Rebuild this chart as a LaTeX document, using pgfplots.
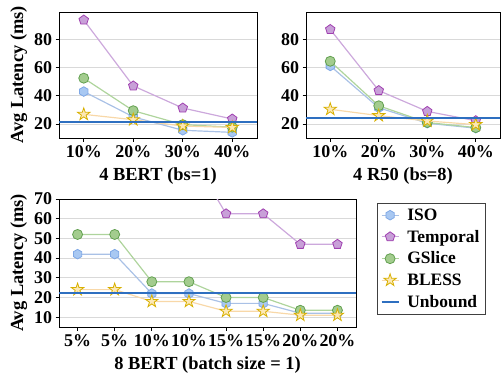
\documentclass[border=0pt]{standalone}
\usepackage{pgfplots}
\pgfplotsset{compat=1.18}
\usepackage{fontspec}
\setmainfont{Liberation Serif}
\definecolor{isoF}{HTML}{A8C8F2}
\definecolor{isoE}{HTML}{7FA8E6}
\definecolor{isoL}{HTML}{A9C1E6}
\definecolor{tmpF}{HTML}{C8A0D8}
\definecolor{tmpE}{HTML}{A040B0}
\definecolor{tmpL}{HTML}{CCA8DC}
\definecolor{gsF}{HTML}{A3CC8E}
\definecolor{gsE}{HTML}{62A050}
\definecolor{gsL}{HTML}{AED49C}
\definecolor{blF}{HTML}{FCE8B6}
\definecolor{blE}{HTML}{D8B000}
\definecolor{blL}{HTML}{F8D8A8}
\definecolor{unb}{HTML}{2E6FC0}
\pgfdeclareplotmark{hexa}{%
  \pgfpathmoveto{\pgfqpointpolar{90}{\pgfplotmarksize}}%
  \pgfpathlineto{\pgfqpointpolar{150}{\pgfplotmarksize}}%
  \pgfpathlineto{\pgfqpointpolar{210}{\pgfplotmarksize}}%
  \pgfpathlineto{\pgfqpointpolar{270}{\pgfplotmarksize}}%
  \pgfpathlineto{\pgfqpointpolar{330}{\pgfplotmarksize}}%
  \pgfpathlineto{\pgfqpointpolar{30}{\pgfplotmarksize}}%
  \pgfpathclose\pgfusepathqfillstroke}
\pgfdeclareplotmark{fstar}{%
  \pgfpathmoveto{\pgfqpointpolar{90}{\pgfplotmarksize}}%
  \pgfpathlineto{\pgfqpointpolar{126}{0.382\pgfplotmarksize}}%
  \pgfpathlineto{\pgfqpointpolar{162}{\pgfplotmarksize}}%
  \pgfpathlineto{\pgfqpointpolar{198}{0.382\pgfplotmarksize}}%
  \pgfpathlineto{\pgfqpointpolar{234}{\pgfplotmarksize}}%
  \pgfpathlineto{\pgfqpointpolar{270}{0.382\pgfplotmarksize}}%
  \pgfpathlineto{\pgfqpointpolar{306}{\pgfplotmarksize}}%
  \pgfpathlineto{\pgfqpointpolar{342}{0.382\pgfplotmarksize}}%
  \pgfpathlineto{\pgfqpointpolar{18}{\pgfplotmarksize}}%
  \pgfpathlineto{\pgfqpointpolar{54}{0.382\pgfplotmarksize}}%
  \pgfpathclose\pgfusepathqfillstroke}
\pgfplotsset{
  base/.style={
    scale only axis,
    axis line style={black, line width=0.8pt},
    tick style={black, line width=0.8pt},
    tick align=outside, major tick length=3.5bp,
    xtick pos=bottom, ytick pos=left,
    ymajorgrids, grid style={gray!30, line width=0.8pt},
    font=\fontsize{18}{21}\selectfont\bfseries,
    tick label style={font=\fontsize{18}{21}\selectfont\bfseries},
    xticklabel style={yshift=-1bp},
    label style={font=\fontsize{18.5}{21}\selectfont\bfseries},
    xlabel style={yshift=-3bp},
    /pgf/number format/assume math mode=true,
    xtick=data,
    clip mode=individual,
  },
  iso/.style={isoL, line width=1.2pt, mark=hexa, mark size=4.8bp, mark options={fill=isoF, draw=isoE, line width=0.8pt}},
  tmp/.style={tmpL, line width=1.2pt, mark=pentagon*, mark size=5bp, mark options={fill=tmpF, draw=tmpE, line width=0.8pt}},
  gs/.style={gsL, line width=1.2pt, mark=*, mark size=5bp, mark options={fill=gsF, draw=gsE, line width=0.8pt}},
  bl/.style={blL, line width=1.2pt, mark=fstar, mark size=6.5bp, mark options={fill=blF, draw=blE, line width=0.8pt}},
  ub/.style={unb, line width=1.6pt},
}
\begin{document}
\begin{tikzpicture}[x=1bp,y=1bp]
\useasboundingbox (0,0) rectangle (501,-377);
% top left
\begin{axis}[base, at={(59bp,-138bp)}, anchor=south west,
  width=198bp, height=126bp,
  xmin=-0.5, xmax=3.5, ymin=10, ymax=99.5,
  ytick={20,40,60,80},
  xticklabels={10\%,20\%,30\%,40\%},
  xlabel={4 BERT (bs=1)}, ylabel={Avg Latency (ms)}]
\addplot[iso] coordinates {(0,43) (1,25) (2,15.5) (3,14)};
\addplot[tmp] coordinates {(0,93.8) (1,47) (2,31.3) (3,23.5)};
\addplot[gs] coordinates {(0,52.5) (1,29.4) (2,19.5) (3,17.7)};
\addplot[bl] coordinates {(0,26.8) (1,23) (2,18.5) (3,17.5)};
\addplot[ub] coordinates {(-0.5,21.5) (3.5,21.5)};
\end{axis}
% top right
\begin{axis}[base, at={(306bp,-138bp)}, anchor=south west,
  width=194bp, height=126bp,
  xmin=-0.5, xmax=3.5, ymin=10, ymax=99.5,
  ytick={20,40,60,80},
  xticklabels={10\%,20\%,30\%,40\%},
  xlabel={4 R50 (bs=8)}]
\addplot[iso] coordinates {(0,61.2) (1,31.5) (2,20.5) (3,17)};
\addplot[tmp] coordinates {(0,87.1) (1,43.7) (2,28.9) (3,22.3)};
\addplot[gs] coordinates {(0,64.5) (1,32.9) (2,21) (3,17.4)};
\addplot[bl] coordinates {(0,30.4) (1,25.9) (2,22.1) (3,19.5)};
\addplot[ub] coordinates {(-0.5,24.3) (3.5,24.3)};
\end{axis}
% bottom
\begin{axis}[base, at={(59bp,-327bp)}, anchor=south west,
  width=297bp, height=128bp,
  xmin=-0.5, xmax=7.5, ymin=5, ymax=70,
  ytick={10,20,30,40,50,60,70},
  xticklabels={5\%,5\%,10\%,10\%,15\%,15\%,20\%,20\%},
  xlabel={8 BERT (batch size = 1)}, ylabel={Avg Latency (ms)},
  legend style={at={(1.071,0.969)}, anchor=north west, draw=black!75,
    font=\fontsize{17.5}{20}\selectfont\bfseries, row sep=4.3bp, inner sep=3.5bp, column sep=6bp},
  legend cell align=left]
\addplot[iso] coordinates {(0,42) (1,42) (2,22) (3,22) (4,17) (5,17) (6,12) (7,12)};
\addlegendentry{ISO}
\addplot[tmp] coordinates {(0,150) (1,150) (2,94) (3,94) (4,62.5) (5,62.5) (6,47) (7,47)};
\addlegendentry{Temporal}
\addplot[gs] coordinates {(0,52) (1,52) (2,28) (3,28) (4,20) (5,20) (6,13.5) (7,13.5)};
\addlegendentry{GSlice}
\addplot[bl] coordinates {(0,24) (1,24) (2,18) (3,18) (4,13) (5,13) (6,11) (7,11)};
\addlegendentry{BLESS}
\addplot[ub, legend image code/.code={\draw[unb, line width=1.6pt] (0cm,0cm) -- (0.6cm,0cm);}] coordinates {(-0.5,22.3) (7.5,22.3)};
\addlegendentry{Unbound}
\end{axis}
\end{tikzpicture}
\end{document}
